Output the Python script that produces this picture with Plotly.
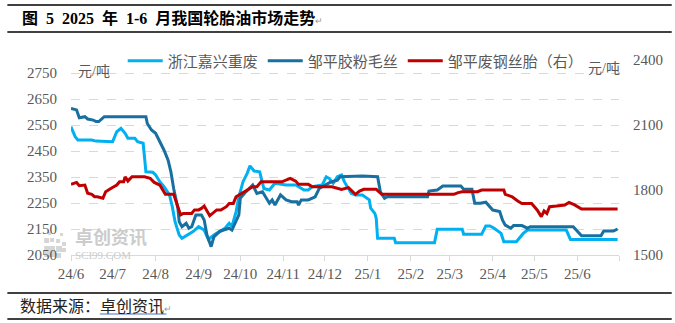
import plotly.graph_objects as go

# ---- data -------------------------------------------------------------
zj_dates = ["2024-06-01", "2024-06-04", "2024-06-06", "2024-06-16", "2024-06-19", "2024-06-24",
            "2024-07-01", "2024-07-04", "2024-07-07", "2024-07-10", "2024-07-12", "2024-07-17",
            "2024-07-19", "2024-07-23", "2024-07-25", "2024-07-30", "2024-08-01", "2024-08-04",
            "2024-08-07", "2024-08-11", "2024-08-13", "2024-08-15", "2024-08-18", "2024-08-20",
            "2024-08-24", "2024-08-28", "2024-09-01", "2024-09-05", "2024-09-08", "2024-09-12",
            "2024-09-16", "2024-09-20", "2024-09-23", "2024-09-25", "2024-09-28", "2024-09-30",
            "2024-10-03", "2024-10-06", "2024-10-08", "2024-10-11", "2024-10-15", "2024-10-18",
            "2024-10-22", "2024-10-26", "2024-11-03", "2024-11-10", "2024-11-16", "2024-11-19",
            "2024-11-22", "2024-11-29", "2024-12-02", "2024-12-04", "2024-12-07", "2024-12-10",
            "2024-12-13", "2024-12-15", "2024-12-20", "2024-12-23", "2024-12-28", "2024-12-31",
            "2025-01-02", "2025-01-03", "2025-01-06", "2025-01-07", "2025-01-08", "2025-01-20",
            "2025-01-21", "2025-02-18", "2025-02-20", "2025-03-10", "2025-03-11", "2025-03-24",
            "2025-03-27", "2025-03-30", "2025-04-02", "2025-04-07", "2025-04-09", "2025-04-18",
            "2025-04-21", "2025-04-23", "2025-04-26", "2025-05-24", "2025-05-27", "2025-06-30"]
zj_vals = [2543, 2505, 2492, 2492, 2488, 2486,
           2486, 2524, 2537, 2518, 2499, 2499,
           2486, 2480, 2370, 2368, 2358, 2332,
           2313, 2281, 2236, 2178, 2127, 2114,
           2127, 2140, 2159, 2146, 2110, 2127,
           2140, 2153, 2172, 2159, 2217, 2274,
           2332, 2364, 2393, 2373, 2370, 2306,
           2300, 2326, 2319, 2319, 2300, 2300,
           2313, 2319, 2351, 2345, 2326, 2351,
           2358, 2332, 2287, 2281, 2281, 2268,
           2262, 2230, 2210, 2191, 2114, 2114,
           2097, 2097, 2149, 2149, 2130, 2130,
           2162, 2162, 2153, 2133, 2101, 2101,
           2120, 2133, 2146, 2146, 2110, 2110]

zp_dates = ["2024-06-01", "2024-06-05", "2024-06-07", "2024-06-11", "2024-06-13", "2024-06-17",
            "2024-06-19", "2024-06-21", "2024-06-25", "2024-07-25", "2024-07-26", "2024-07-29",
            "2024-08-01", "2024-08-04", "2024-08-07", "2024-08-10", "2024-08-12", "2024-08-14",
            "2024-08-17", "2024-08-18", "2024-08-20", "2024-08-23", "2024-08-25", "2024-08-27",
            "2024-08-30", "2024-09-03", "2024-09-05", "2024-09-07", "2024-09-10", "2024-09-12",
            "2024-09-16", "2024-09-19", "2024-09-23", "2024-09-25", "2024-09-28", "2024-09-30",
            "2024-10-01", "2024-10-05", "2024-10-10", "2024-10-13", "2024-10-17", "2024-10-19",
            "2024-10-22", "2024-10-24", "2024-10-26", "2024-10-30", "2024-11-03", "2024-11-07",
            "2024-11-11", "2024-11-12", "2024-11-14", "2024-11-19", "2024-11-22", "2024-11-24",
            "2024-11-27", "2024-12-01", "2024-12-05", "2024-12-10", "2024-12-12", "2024-12-28",
            "2025-01-08", "2025-01-10", "2025-01-13", "2025-01-15", "2025-02-13", "2025-02-14",
            "2025-02-20", "2025-02-24", "2025-03-09", "2025-03-11", "2025-03-17", "2025-03-19",
            "2025-03-23", "2025-03-27", "2025-04-01", "2025-04-06", "2025-04-08", "2025-04-10",
            "2025-04-14", "2025-04-16", "2025-04-22", "2025-04-26", "2025-04-28", "2025-05-29",
            "2025-06-02", "2025-06-04", "2025-06-18", "2025-06-20", "2025-06-27", "2025-06-30"]
zp_vals = [2614, 2608, 2578, 2582, 2573, 2569,
           2563, 2563, 2582, 2582, 2556, 2531,
           2518, 2486, 2454, 2415, 2370, 2306,
           2230, 2178, 2159, 2172, 2153, 2159,
           2204, 2204, 2185, 2127, 2082, 2120,
           2140, 2146, 2153, 2146, 2178, 2204,
           2268, 2293, 2319, 2287, 2293, 2274,
           2249, 2262, 2242, 2281, 2262, 2255,
           2255, 2242, 2262, 2262, 2268, 2274,
           2306, 2319, 2330, 2338, 2351, 2354,
           2351, 2293, 2268, 2274, 2274, 2296,
           2300, 2315, 2315, 2303, 2303, 2249,
           2249, 2253, 2223, 2217, 2185, 2165,
           2153, 2163, 2163, 2153, 2159, 2159,
           2133, 2124, 2124, 2142, 2142, 2150]

fp_dates = ["2024-06-01", "2024-06-05", "2024-06-07", "2024-06-11", "2024-06-13", "2024-06-16",
            "2024-06-18", "2024-06-20", "2024-06-24", "2024-06-26", "2024-06-30", "2024-07-04",
            "2024-07-06", "2024-07-09", "2024-07-10", "2024-07-12", "2024-07-15", "2024-07-24",
            "2024-07-28", "2024-07-31", "2024-08-04", "2024-08-06", "2024-08-08", "2024-08-14",
            "2024-08-17", "2024-08-19", "2024-08-21", "2024-08-27", "2024-08-29", "2024-09-01",
            "2024-09-03", "2024-09-05", "2024-09-09", "2024-09-14", "2024-09-17", "2024-09-21",
            "2024-09-23", "2024-09-26", "2024-09-28", "2024-10-02", "2024-10-06", "2024-10-10",
            "2024-10-13", "2024-10-16", "2024-10-31", "2024-11-03", "2024-11-06", "2024-11-10",
            "2024-11-12", "2024-11-19", "2024-11-22", "2024-12-06", "2024-12-13", "2024-12-18",
            "2024-12-23", "2024-12-26", "2024-12-29", "2025-01-07", "2025-01-11", "2025-03-04",
            "2025-03-07", "2025-03-10", "2025-03-21", "2025-03-24", "2025-04-09", "2025-04-10",
            "2025-04-15", "2025-04-19", "2025-04-22", "2025-04-29", "2025-05-03", "2025-05-06",
            "2025-05-08", "2025-05-10", "2025-05-12", "2025-05-17", "2025-05-23", "2025-05-26",
            "2025-05-30", "2025-06-04", "2025-06-30"]
fp_vals = [1826, 1835, 1820, 1823, 1785, 1780,
           1769, 1769, 1762, 1792, 1808, 1823,
           1838, 1838, 1861, 1841, 1861, 1861,
           1854, 1835, 1823, 1800, 1780, 1780,
           1723, 1685, 1692, 1692, 1708, 1708,
           1715, 1726, 1681, 1708, 1708, 1723,
           1738, 1738, 1769, 1785, 1800, 1815,
           1815, 1838, 1838, 1846, 1854, 1841,
           1826, 1826, 1815, 1815, 1803, 1811,
           1780, 1795, 1803, 1803, 1780, 1780,
           1788, 1792, 1792, 1800, 1800, 1780,
           1769, 1749, 1738, 1738, 1708, 1677,
           1703, 1692, 1723, 1726, 1731, 1743,
           1731, 1712, 1712]

month_ticks = ["2024-06-01", "2024-07-01", "2024-08-01", "2024-09-01", "2024-10-01",
               "2024-11-01", "2024-12-01", "2025-01-01", "2025-02-01", "2025-03-01",
               "2025-04-01", "2025-05-01", "2025-06-01", "2025-07-01"]
month_labels = ["24/6", "24/7", "24/8", "24/9", "24/10", "24/11", "24/12",
                "25/1", "25/2", "25/3", "25/4", "25/5", "25/6", ""]

left_ticks = [2050, 2150, 2250, 2350, 2450, 2550, 2650, 2750]
right_ticks = [1500, 1800, 2100, 2400]

series_names = ["浙江嘉兴重废", "邹平胶粉毛丝", "邹平废钢丝胎（右）"]
series_colors = ["#00B0F0", "#17709F", "#C00000"]

# ---- geometry helpers (pixel -> paper) --------------------------------
W, H = 675, 323
L, R, T, B = 71, 53, 60, 68
PW, PH = W - L - R, H - T - B


def px(x):
    return (x - L) / PW


def py(y):
    return (H - B - y) / PH


CJK = "Liberation Serif, Noto Sans CJK SC, sans-serif"
GREY = "#595959"
SP = "\u2002"  # en space used in the caption

fig = go.Figure()
fig.add_trace(go.Scatter(x=zj_dates, y=zj_vals, name=series_names[0], mode="lines",
                         line=dict(color=series_colors[0], width=3)))
fig.add_trace(go.Scatter(x=zp_dates, y=zp_vals, name=series_names[1], mode="lines",
                         line=dict(color=series_colors[1], width=3)))
fig.add_trace(go.Scatter(x=fp_dates, y=fp_vals, name=series_names[2], mode="lines",
                         line=dict(color=series_colors[2], width=3), yaxis="y2"))

tickfont = dict(family="Liberation Serif, serif", size=15, color=GREY)

fig.update_layout(
    width=W, height=H,
    margin=dict(l=L, r=R, t=T, b=B, pad=0),
    paper_bgcolor="white", plot_bgcolor="white",
    font=dict(family=CJK, color=GREY),
    showlegend=True,
    legend=dict(orientation="h", x=px(123), y=py(61), xanchor="left", yanchor="middle",
                font=dict(family="Noto Sans CJK SC, sans-serif", size=15, color=GREY),
                bgcolor="rgba(0,0,0,0)", itemwidth=35, tracegroupgap=0),
    xaxis=dict(type="date", range=["2024-06-01", "2025-07-01"],
               tickvals=month_ticks, ticktext=month_labels,
               showgrid=False, zeroline=False,
               showline=True, linecolor="#D9D9D9", linewidth=1,
               ticks="outside", ticklen=5, tickcolor="#D9D9D9",
               tickfont=tickfont, fixedrange=True),
    yaxis=dict(range=[2050, 2800], tickvals=left_ticks,
               showgrid=True, gridcolor="#D9D9D9", griddash="dash", gridwidth=1,
               zeroline=False, showline=False,
               ticks="outside", ticklen=10, tickcolor="rgba(0,0,0,0)",
               tickfont=tickfont),
    yaxis2=dict(range=[1500, 2400], tickvals=right_ticks, overlaying="y", side="right",
                showgrid=False, zeroline=False, showline=False,
                ticks="outside", ticklen=10, tickcolor="rgba(0,0,0,0)",
                tickfont=tickfont),
)

# frame lines of the figure caption and source note
shapes = []
for yy in (5, 32, 293, 319):
    shapes.append(dict(type="line", xref="paper", yref="paper",
                       x0=px(7), x1=px(675), y0=py(yy), y1=py(yy),
                       line=dict(color="black", width=1.3)))
# hyperlink underline of the source name
shapes.append(dict(type="line", xref="paper", yref="paper",
                   x0=px(100), x1=px(167), y0=py(314), y1=py(314),
                   line=dict(color="#4472C4", width=1)))
# watermark logo blocks
for (bx, by, s) in [(44, 246, 11), (56, 246, 6), (56, 253, 5), (44, 238, 5), (50, 238, 4),
                    (56, 239, 4), (62, 242, 4), (62, 248, 4), (48, 232, 3), (60, 233, 3)]:
    shapes.append(dict(type="rect", xref="paper", yref="paper", layer="below",
                       x0=px(bx), x1=px(bx + s), y0=py(by), y1=py(by + s),
                       fillcolor="#D6D6D6", line=dict(width=0)))
fig.update_layout(shapes=shapes)

caption = SP.join(["图", "5", "2025", "年", "1-6", "月我国轮胎油市场走势"])
ann = [
    dict(text="<b>" + caption + "</b><span style='font-size:9px;color:#999999'>↵</span>",
         x=px(20), y=py(18), xanchor="left", yanchor="middle",
         font=dict(family=CJK, size=16, color="black")),
    dict(text="数据来源：卓创资讯<span style='font-size:9px;color:#999999'>↵</span>",
         x=px(18), y=py(305), xanchor="left", yanchor="middle",
         font=dict(family="Noto Sans CJK SC, sans-serif", size=16, color="#222222")),
    dict(text="元/吨", x=px(76), y=py(71), xanchor="left", yanchor="middle",
         font=dict(family=CJK, size=14, color=GREY)),
    dict(text="元/吨", x=px(589), y=py(69), xanchor="left", yanchor="middle",
         font=dict(family=CJK, size=14, color=GREY)),
    dict(text="<b>卓创资讯</b>", x=px(73), y=py(236), xanchor="left", yanchor="middle",
         font=dict(family="Noto Sans CJK SC, sans-serif", size=18, color="#CCCCCC")),
    dict(text="SCI99.COM", x=px(73), y=py(255), xanchor="left", yanchor="middle",
         font=dict(family="Liberation Serif, serif", size=11, color="#CCCCCC")),
]
for a in ann:
    a.update(xref="paper", yref="paper", showarrow=False)
fig.update_layout(annotations=ann)

fig.write_html("out.html")
